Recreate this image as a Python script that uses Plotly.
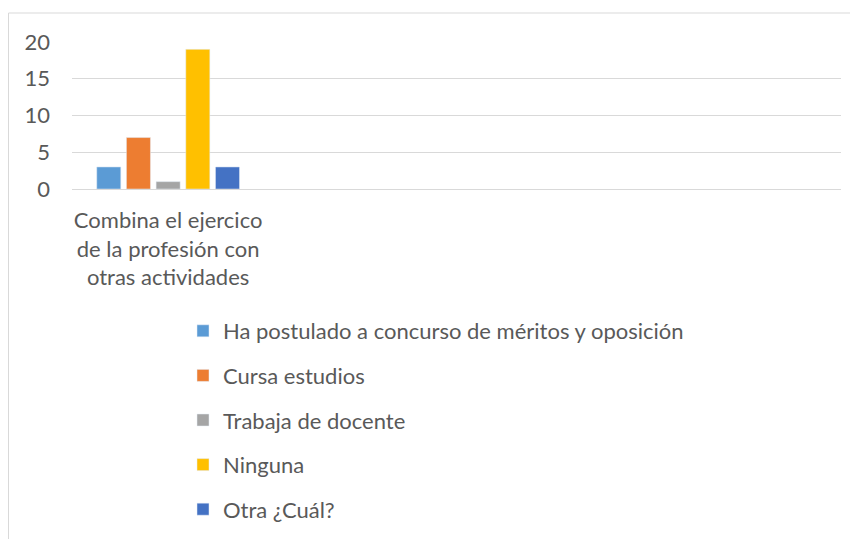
import plotly.graph_objects as go

category = ["Combina el ejercico<br>de la profesión con<br>otras actividades"]
series_names = ["Ha postulado a concurso de méritos y oposición", "Cursa estudios",
                "Trabaja de docente", "Ninguna", "Otra ¿Cuál?"]
series_values = [3, 7, 1, 19, 3]
series_colors = ["#5b9bd5", "#ed7d31", "#a5a5a5", "#ffc000", "#4472c4"]
y_ticks = [0, 5, 10, 15, 20]

# page has an 8px body margin, so figure coords = page coords - 8
OFF = 8
W, H = 858 - OFF, 539 - OFF
left, right, top, bottom = 72 - OFF, 841 - OFF, 42 - OFF, 189 - OFF
pw, ph = right - left, bottom - top

fig = go.Figure()
for i, (name, val, col) in enumerate(zip(series_names, series_values, series_colors)):
    fig.add_trace(go.Bar(x=[0], y=[val], name=name, marker_color=col,
                         legendgroup=str(i)))

font = "Lato, Calibri, sans-serif"
leg_x, leg_y = 183 - OFF, 310 - OFF
fig.update_layout(
    width=W, height=H,
    margin=dict(l=left, r=W - right, t=top, b=H - bottom, pad=0, autoexpand=False),
    paper_bgcolor="white", plot_bgcolor="white",
    font=dict(family=font, size=22, color="#595959"),
    barmode="group", bargap=0.228, bargroupgap=0.19,
    showlegend=True,
    legend=dict(x=(leg_x - left) / pw, y=(bottom - leg_y) / ph, xanchor="left", yanchor="top",
                traceorder="grouped", tracegroupgap=13,
                font=dict(size=22, color="#595959")),
    xaxis=dict(range=[-0.5, 3.5], tickvals=[0], ticktext=category, automargin=False,
               showgrid=False, zeroline=False, showline=False, ticks="",
               ticklabelstandoff=16),
    yaxis=dict(range=[0, 20], tickvals=y_ticks, showgrid=True, gridcolor="#d9d9d9",
               gridwidth=1, zeroline=True, zerolinecolor="#d9d9d9", zerolinewidth=1,
               showline=False, ticks="", ticklabelstandoff=21, automargin=False),
)

# chart frame (left and top edges)
fx0 = (0.5 - left) / pw
fy1 = (bottom - (13 - OFF)) / ph
fy0 = (bottom - H - 5) / ph
fx1 = (W + 5 - left) / pw
fig.add_shape(type="line", xref="paper", yref="paper", x0=fx0, x1=fx0, y0=fy0, y1=fy1,
              line=dict(color="#d9d9d9", width=1))
fig.add_shape(type="line", xref="paper", yref="paper", x0=fx0, x1=fx1, y0=fy1, y1=fy1,
              line=dict(color="#d9d9d9", width=1))

fig.write_html("out.html")
